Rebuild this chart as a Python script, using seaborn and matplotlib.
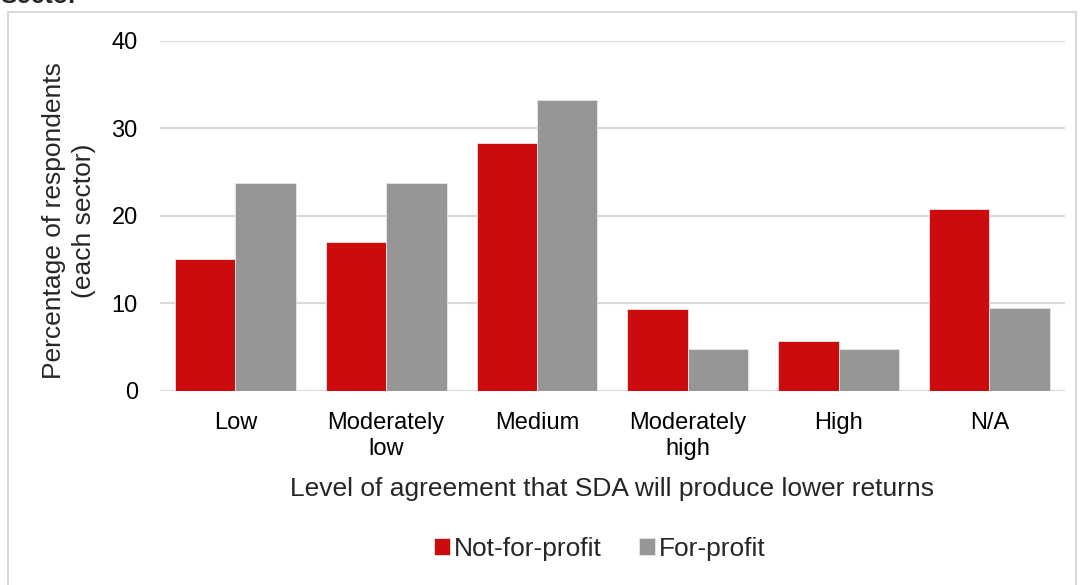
import pandas as pd
import matplotlib.pyplot as plt
import seaborn as sns
from matplotlib.patches import Rectangle

# Dados
niveis = ["Low", "Moderately\nlow", "Medium", "Moderately\nhigh", "High", "N/A"]
setores = ["Not-for-profit", "For-profit"]
nao_lucrativo = [15.1, 17.0, 28.3, 9.4, 5.7, 20.8]
lucrativo = [23.8, 23.8, 33.3, 4.8, 4.8, 9.5]
cores = ["#CC0C0C", "#969696"]

df = pd.DataFrame({
    "nivel": niveis * 2,
    "setor": [setores[0]] * len(niveis) + [setores[1]] * len(niveis),
    "valor": nao_lucrativo + lucrativo,
})

sns.set_theme(style="white")
plt.rcParams["font.family"] = ["Liberation Sans", "DejaVu Sans"]

fig = plt.figure(figsize=(10.81, 5.85), dpi=100)
ax = fig.add_axes([0.148, 0.332, 0.837, 0.598])

sns.barplot(data=df, x="nivel", y="valor", hue="setor", palette=cores,
            saturation=1, width=0.8, gap=0, edgecolor="#e6e6e6",
            linewidth=0.6, ax=ax, errorbar=None, legend=True)

ax.set_ylim(0, 40)
ax.set_yticks([0, 10, 20, 30, 40])
ax.yaxis.grid(True, color="#d9d9d9", linewidth=1.5)
ax.set_axisbelow(True)
for s in ax.spines.values():
    s.set_visible(False)
ax.tick_params(axis="both", length=0, labelsize=17, colors="black")
ax.tick_params(axis="x", pad=15)
ax.tick_params(axis="y", pad=16)
for lbl in ax.get_xticklabels():
    lbl.set_linespacing(1.25)

ax.set_xlabel("Level of agreement that SDA will produce lower returns",
              fontsize=19, labelpad=12)
ax.set_ylabel("Percentage of respondents\n(each sector)", fontsize=19,
              linespacing=1.3)
ax.yaxis.set_label_coords(-0.0706, 0.486)

ax.legend(loc="center", bbox_to_anchor=(0.555, 0.062),
          bbox_transform=fig.transFigure, ncol=2, frameon=False,
          fontsize=19, handlelength=0.6, handleheight=0.6,
          handletextpad=0.15, columnspacing=1.4)

# moldura e título cortado no topo
fig.add_artist(Rectangle((8 / 1081, -0.01), 1068 / 1081, 1 - 12 / 585 + 0.01,
                         transform=fig.transFigure, fill=False,
                         edgecolor="#d9d9d9", linewidth=1.5))
fig.text(0.0, 1 - 8 / 585, "Sector", fontsize=18, fontweight="bold",
         va="bottom", ha="left")

fig.savefig("out.png", dpi=100)
